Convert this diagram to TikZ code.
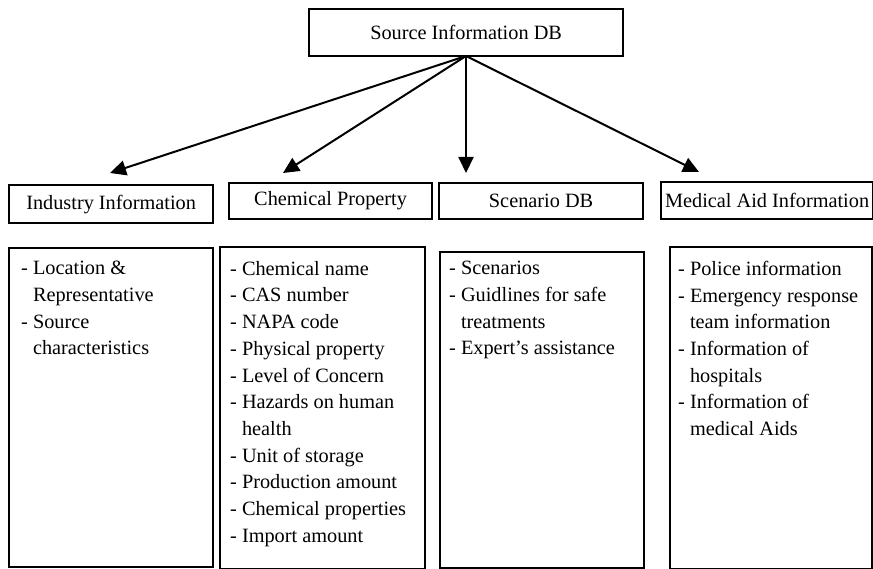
\documentclass[tikz,border=0pt]{standalone}
\usepackage{fontspec}
\setmainfont{Liberation Serif}
\usetikzlibrary{arrows.meta}
\begin{document}
\begin{tikzpicture}[x=1pt,y=-1pt,
  box/.style={draw,line width=2.2pt,inner sep=0pt,anchor=north west},
  lbl/.style={font=\fontsize{20.3}{24}\selectfont},
  list/.style={font=\fontsize{20.3}{26.7}\selectfont,align=left,anchor=north west,inner sep=0pt},
  arr/.style={line width=2pt,-{Triangle[length=16pt,width=15pt]}}]
\useasboundingbox[fill=white] (0,0) rectangle (873,569);
% top box
\node[box,lbl,minimum width=314pt,minimum height=47pt] (src) at (308,8) {Source Information DB};
% headers
\node[box,lbl,minimum width=204pt,minimum height=38pt] (ind) at (8,184) {Industry Information};
\node[box,lbl,minimum width=203pt,minimum height=36pt] (chem) at (228,182) {Chemical Property};
\node[box,lbl,minimum width=204pt,minimum height=36pt] (scen) at (438,182) {Scenario DB};
\node[box,lbl,minimum width=212pt,minimum height=37pt] (med) at (660,181) {Medical Aid Information};
% content boxes
\node[box,minimum width=204pt,minimum height=319pt] (indb) at (8,247) {};
\node[box,minimum width=205pt,minimum height=322pt] (chemb) at (219,246) {};
\node[box,minimum width=204pt,minimum height=316pt] (scenb) at (439,251) {};
\node[box,minimum width=202pt,minimum height=322pt] (medb) at (669,246) {};
% lists
\node[list] (indl) at (21,261) {- Location \&\\\phantom{- }Representative\\- Source\\\phantom{- }characteristics};
\node[list] (cheml) at (230,261) {- Chemical name\\- CAS number\\- NAPA code\\- Physical property\\- Level of Concern\\- Hazards on human\\\phantom{- }health\\- Unit of storage\\- Production amount\\- Chemical properties\\- Import amount};
\node[list] (scenl) at (449,261) {- Scenarios\\- Guidlines for safe\\\phantom{- }treatments\\- Expert’s assistance};
\node[list] (medl) at (678,261) {- Police information\\- Emergency response\\\phantom{- }team information\\- Information of\\\phantom{- }hospitals\\- Information of\\\phantom{- }medical Aids};
% arrows
\coordinate (o) at (466,56);
\coordinate (t1) at (110,173);
\coordinate (t2) at (283,173);
\coordinate (t3) at (466,173);
\coordinate (t4) at (699,172);
\draw[arr] (o) -- (t1);
\draw[arr] (o) -- (t2);
\draw[arr] (o) -- (t3);
\draw[arr] (o) -- (t4);
\end{tikzpicture}
\end{document}
